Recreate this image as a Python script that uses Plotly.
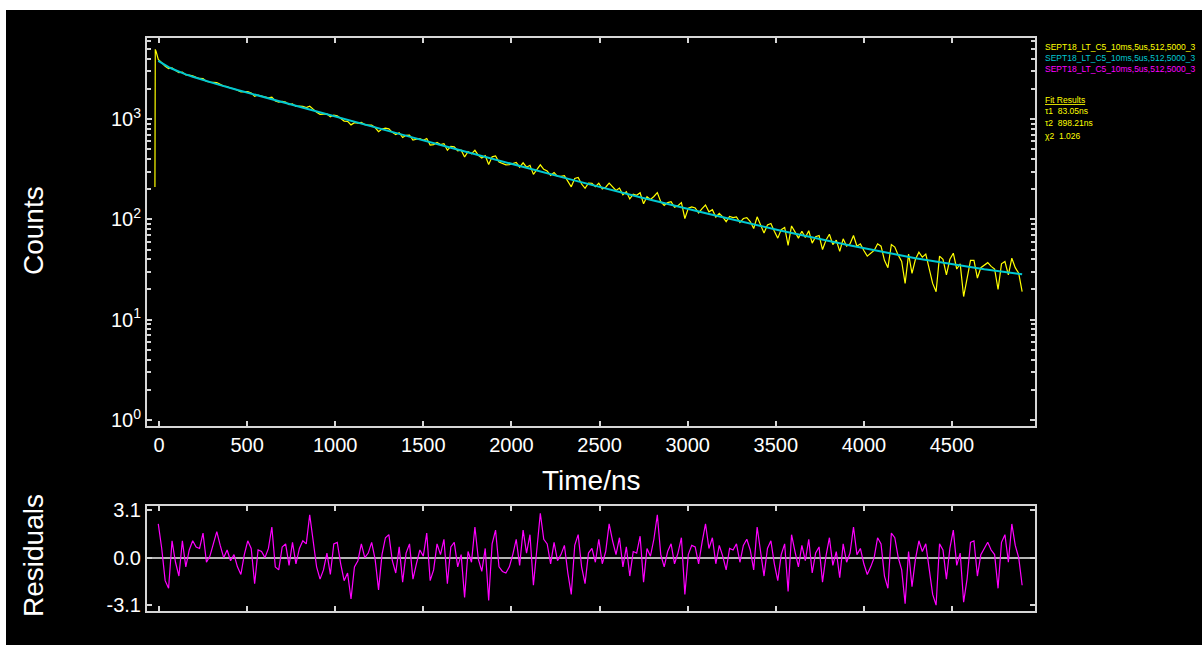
import numpy as np
import plotly.graph_objects as go

# ---- time-resolved decay data (channel grid of the histogram) ----
CHANNEL_NS = 19.53
FIRST_CHANNEL_NS = -4.0

# instrument rise before the decay channels
rise_time_ns = [-23, -21, -16, -11]
rise_counts = [210, 4950, 4700, 4300]

decay_counts = [
    3940, 3644, 3354, 3184, 3234, 3043, 2896, 2929, 2755, 2736,
    2696, 2607, 2539, 2527, 2375, 2340, 2325, 2310, 2218, 2133,
    2108, 2031, 2004, 1925, 1862, 1878, 1876, 1815, 1681, 1735,
    1693, 1641, 1630, 1651, 1514, 1475, 1501, 1476, 1393, 1419,
    1337, 1345, 1335, 1300, 1340, 1256, 1168, 1115, 1112, 1124,
    1055, 1097, 1077, 1010, 954, 949, 875, 921, 913, 926,
    880, 871, 872, 823, 748, 797, 810, 799, 737, 699,
    730, 654, 689, 690, 617, 629, 639, 615, 639, 551,
    556, 584, 556, 567, 489, 533, 529, 483, 489, 418,
    474, 450, 488, 435, 409, 431, 353, 420, 429, 373,
    360, 350, 351, 358, 369, 331, 366, 331, 346, 281,
    315, 350, 315, 303, 275, 293, 268, 268, 273, 238,
    211, 256, 262, 225, 204, 230, 229, 212, 229, 201,
    209, 230, 210, 194, 205, 176, 189, 160, 178, 174,
    184, 143, 168, 158, 169, 185, 150, 138, 147, 150,
    132, 137, 147, 102, 129, 133, 130, 116, 128, 139,
    119, 125, 105, 115, 106, 95, 107, 104, 106, 93,
    102, 104, 95, 81, 106, 89, 73, 88, 91, 76,
    65, 79, 83, 55, 86, 75, 65, 76, 66, 77,
    58, 67, 69, 50, 62, 71, 56, 62, 48, 64,
    54, 57, 69, 54, 57, 49, 43, 46, 49, 57,
    54, 39, 33, 56, 53, 44, 38, 23, 45, 29,
    40, 47, 42, 45, 33, 23, 19, 43, 40, 28,
    40, 46, 32, 36, 17, 26, 39, 39, 26, 33,
    35, 37, 34, 32, 20, 36, 38, 28, 41, 33,
    29, 19,
]

# weighted residuals on the same channel grid
residuals = [
    2.2, 0.6, -1.5, -2.0, 1.1, -0.3, -1.2, 1.1, -0.6, 0.5,
    1.1, 0.7, 0.6, 1.6, -0.3, 0.1, 0.9, 1.7, 0.8, 0.0,
    0.5, -0.2, 0.2, -0.6, -1.1, 0.2, 1.1, 0.6, -1.7, 0.5,
    0.4, 0.0, 0.6, 2.0, -0.6, -0.8, 0.7, 0.9, -0.5, 1.0,
    -0.4, 0.6, 1.1, 0.9, 2.8, 1.2, -0.6, -1.4, -0.8, 0.3,
    -1.1, 0.9, 1.0, -0.4, -1.5, -1.0, -2.7, -0.6, -0.2, 0.9,
    0.0, 0.3, 1.0, -0.1, -2.1, 0.2, 1.3, 1.5, -0.2, -1.0,
    0.7, -1.6, 0.3, 0.9, -1.4, -0.4, 0.5, 0.1, 1.6, -1.5,
    -0.8, 0.9, 0.2, 1.2, -1.7, 0.7,
    1.0, -0.6, 0.2, -2.6, 0.4, -0.3, 2.0, -0.1, -0.9, 0.6,
    -2.8, 0.9, 1.8, -0.6, -0.9, -1.0, -0.6, 0.2, 1.2, -0.5,
    1.8, 0.3, 1.5, -1.8, 0.5, 2.9, 1.2, 0.9, -0.4, 1.0,
    -0.2, 0.2, 0.8, -1.0, -2.4, 0.8, 1.5, -0.6, -1.7, 0.3,
    0.6, -0.3, 1.2, -0.4, 0.4, 2.2, 1.1, 0.2, 1.3, -0.6,
    0.7, -1.2, 0.4, 0.3, 1.4, -1.6, 0.6, 0.1, 1.2, 2.8,
    0.2, -0.6, 0.4, 0.9, -0.4, 0.3, 1.3, -2.4, 0.2, 0.8,
    0.7, -0.4, 1.0, 2.2, 0.6, 1.3, -0.4, 0.8, 0.1, -0.8,
    0.6, 0.5, 0.9, -0.3, 0.8, 1.2,
    0.5, -0.8, 2.0, 0.3, -1.2, 0.6, 1.1, -0.4, -1.5, 0.2,
    0.9, -2.2, 1.5, 0.4, -0.6, 0.8, -0.2, 1.2, -1.0, 0.3,
    0.7, -1.6, 0.1, 1.3, -0.5, 0.4, -1.3, 0.9, -0.3,
    0.3, 2.0, 0.2, 0.6, -0.4, -1.1, -0.6, 0.0, 1.3, 0.9,
    -1.2, -2.0, 1.6, 1.3, 0.0, -0.8, -3.0, 0.4, -1.9, -0.1,
    1.1, 0.4, 0.9, -0.9, -2.4, -3.1, 0.9, 0.5, -1.4,
    0.6, 1.8, -0.5, 0.3, -2.9, -1.4, 1.0, 1.1, -1.2, 0.2,
    0.6, 1.0, 0.5, 0.2, -2.0, 1.0, 1.5, -0.3, 2.2,
    0.8, 0.0, -1.8,
]

# fitted bi-exponential curve (sampled)
fit_time_ns = [-4, 15.5, 35.1, 54.6, 74.1, 93.7, 113.2, 152.2, 191.3, 249.9,
               328.0, 425.7, 523.3, 679.6, 874.9, 1070.2, 1363.2, 1656.1,
               1949.1, 2339.7, 2730.3, 3120.9, 3511.5, 3902.1, 4292.7,
               4683.3, 4898.0]
fit_counts = [3802, 3608, 3442, 3299, 3172, 3060, 2961, 2787, 2639, 2448,
              2230, 1995, 1790, 1506, 1214, 980, 711, 517,
              377, 249, 166, 113, 78.4, 55.7, 41.0,
              31.8, 28.3]

time_ticks = [0, 500, 1000, 1500, 2000, 2500, 3000, 3500, 4000, 4500]
count_decades = [0, 1, 2, 3]
residual_ticks = [-3.1, 0.0, 3.1]

file_labels = ["SEPT18_LT_C5_10ms,5us,512,5000_3",
               "SEPT18_LT_C5_10ms,5us,512,5000_3",
               "SEPT18_LT_C5_10ms,5us,512,5000_3"]
fit_param_names = ["τ1", "τ2", "χ2"]
fit_param_values = ["83.05ns", "898.21ns", "1.026"]

# ---- styling ----
W, H = 1202, 645
ML, MR, MT, MB = 147, 167, 38, 34
PW, PH = W - ML - MR, H - MT - MB
FONT = "Arial, 'Liberation Sans', sans-serif"
FRAME = "#d6d6d6"
YELLOW = "#ffff00"
CYAN = "#00c8d2"
MAGENTA = "#ff00ff"


def px_x(px):
    return (px - ML) / PW


def px_y(py):
    return (H - MB - py) / PH


channel_time = FIRST_CHANNEL_NS + CHANNEL_NS * np.arange(len(decay_counts))
data_time = list(rise_time_ns) + list(channel_time)
data_counts = list(rise_counts) + list(decay_counts)

fig = go.Figure()
fig.add_trace(go.Scatter(x=data_time, y=data_counts, mode="lines",
                         line=dict(color=YELLOW, width=1.2),
                         xaxis="x", yaxis="y", showlegend=False))
fig.add_trace(go.Scatter(x=fit_time_ns, y=fit_counts, mode="lines",
                         line=dict(color=CYAN, width=2),
                         xaxis="x", yaxis="y", showlegend=False))
fig.add_trace(go.Scatter(x=channel_time[:len(residuals)], y=residuals, mode="lines",
                         line=dict(color=MAGENTA, width=1.2),
                         xaxis="x2", yaxis="y2", showlegend=False))

# log ticks: labelled decades, unlabelled sub-decade marks as minor ticks
decade_vals = [10 ** p for p in count_decades]
decade_text = [f"10<sup>{p}</sup>" for p in count_decades]
sub_decade_vals = [m * 10 ** p for p in count_decades for m in range(2, 10)
                   if m * 10 ** p <= 6000]

x_range = [-68, 4971]
common_axis = dict(showline=True, linecolor=FRAME, linewidth=2, mirror="ticks",
                   ticks="inside", ticklen=5, tickwidth=1.5, tickcolor=FRAME,
                   showgrid=False, zeroline=False,
                   tickfont=dict(family=FONT, size=20, color="white"))

main_bottom = px_y(426)
resid_top = px_y(505.7)

fig.update_layout(
    width=W, height=H,
    margin=dict(l=ML, r=MR, t=MT, b=MB),
    paper_bgcolor="white", plot_bgcolor="black",
    xaxis=dict(common_axis, range=x_range, domain=[0, 1], anchor="y",
               tickvals=time_ticks, ticktext=[str(v) for v in time_ticks]),
    yaxis=dict(common_axis, type="log", range=[-0.06, 3.808],
               domain=[main_bottom, 1], anchor="x",
               tickvals=decade_vals, ticktext=decade_text,
               minor=dict(tickmode="array", tickvals=sub_decade_vals,
                          ticks="inside", ticklen=4, tickwidth=1.5,
                          tickcolor=FRAME, showgrid=False)),
    xaxis2=dict(common_axis, range=x_range, domain=[0, 1], anchor="y2",
                tickvals=time_ticks, showticklabels=False),
    yaxis2=dict(common_axis, range=[-3.48, 3.39], domain=[0, resid_top], anchor="x2",
                tickvals=residual_ticks, ticktext=["-3.1", "0.0", "3.1"],
                zeroline=True, zerolinecolor="#b4b4b4", zerolinewidth=2),
    shapes=[dict(type="rect", xref="paper", yref="paper", layer="below",
                 x0=px_x(6), x1=px_x(W + 20), y0=px_y(H + 20), y1=px_y(10),
                 fillcolor="black", line=dict(width=0))],
)

annotations = [
    dict(text="Time/ns", x=px_x(591), y=px_y(481), font=dict(size=28)),
    dict(text="Counts", x=px_x(33), y=px_y(231), textangle=-90, font=dict(size=28)),
    dict(text="Residuals", x=px_x(33), y=px_y(556), textangle=-90, font=dict(size=28)),
]
for a in annotations:
    a.update(xref="paper", yref="paper", showarrow=False,
             xanchor="center", yanchor="middle")
    a["font"].update(family=FONT, color="white")

side_font = dict(family=FONT, size=8.5)
for label, color, py in zip(file_labels, [YELLOW, CYAN, MAGENTA], [47, 58, 69]):
    annotations.append(dict(text=label, x=px_x(1043), y=px_y(py), xref="paper", yref="paper",
                            showarrow=False, xanchor="left", yanchor="middle",
                            font=dict(side_font, color=color)))
annotations.append(dict(text="<u>Fit Results</u>", x=px_x(1043), y=px_y(100),
                        xref="paper", yref="paper", showarrow=False,
                        xanchor="left", yanchor="middle",
                        font=dict(side_font, color=YELLOW)))
for name, val, py in zip(fit_param_names, fit_param_values, [111, 123, 136]):
    annotations.append(dict(text=f"{name}  {val}", x=px_x(1043), y=px_y(py),
                            xref="paper", yref="paper", showarrow=False,
                            xanchor="left", yanchor="middle",
                            font=dict(side_font, color=YELLOW)))

fig.update_layout(annotations=annotations)
fig.write_html("out.html")
